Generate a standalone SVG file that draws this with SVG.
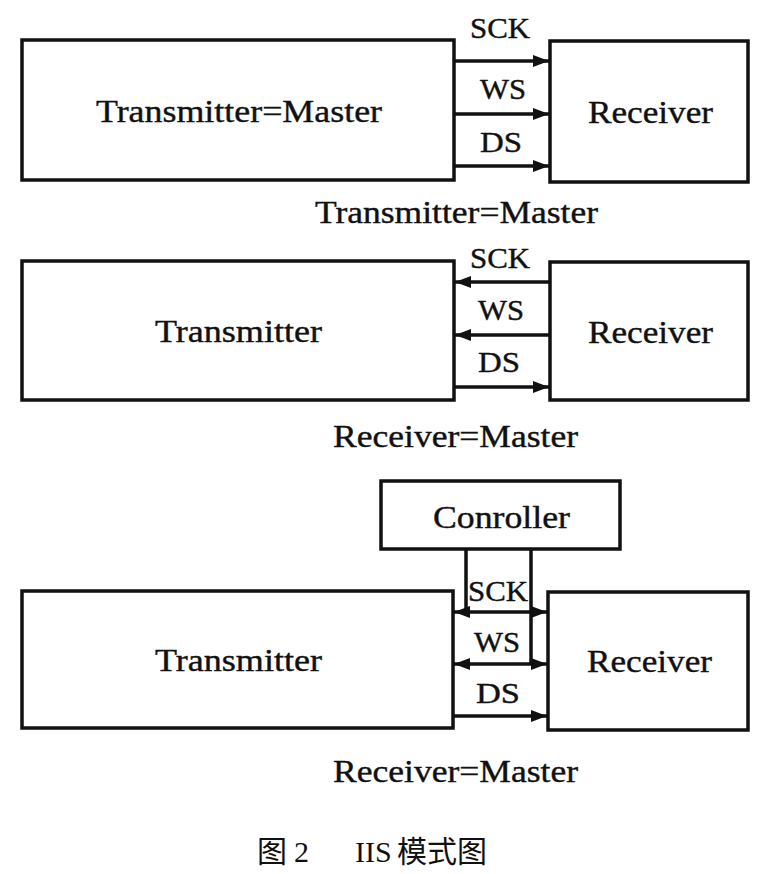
<svg xmlns="http://www.w3.org/2000/svg" width="764" height="874" viewBox="0 0 764 874">
<style>
.box{fill:#fff;stroke:#111;stroke-width:3.5}
.ln{fill:none;stroke:#111;stroke-width:3.5}
.t{font-family:"Liberation Serif","Times New Roman",serif;fill:#111;stroke:#111;stroke-width:0.4}
.big{font-size:32px}
.sig{font-size:30px}
.cap{font-family:"Liberation Serif","Noto Sans CJK SC",serif;font-size:30px;fill:#111}
</style>
<defs>
<marker id="ah" markerUnits="userSpaceOnUse" markerWidth="16" markerHeight="14" refX="16" refY="7" orient="auto-start-reverse">
<path d="M0,1 L16,7 L0,13 z" fill="#111"/>
</marker>
</defs>
<rect width="764" height="874" fill="#fff"/>

<!-- Section 1 -->
<g id="tx1"><rect class="box" x="22" y="40" width="432" height="140"/>
<text class="t big" x="96" y="122" textLength="286" lengthAdjust="spacingAndGlyphs">Transmitter=Master</text></g>
<g id="rx1"><rect class="box" x="550" y="41" width="198" height="141"/>
<text class="t big" x="588" y="123" textLength="125" lengthAdjust="spacingAndGlyphs">Receiver</text></g>
<text class="t big" x="315" y="223" textLength="283" lengthAdjust="spacingAndGlyphs">Transmitter=Master</text>

<!-- Section 2 -->
<g id="tx2"><rect class="box" x="22" y="261" width="432" height="139"/>
<text class="t big" x="155" y="342" textLength="167" lengthAdjust="spacingAndGlyphs">Transmitter</text></g>
<g id="rx2"><rect class="box" x="550" y="262" width="198" height="138"/>
<text class="t big" x="588" y="343" textLength="125" lengthAdjust="spacingAndGlyphs">Receiver</text></g>
<text class="t big" x="333" y="447" textLength="245" lengthAdjust="spacingAndGlyphs">Receiver=Master</text>

<!-- Section 3 -->
<g id="ctrl"><rect class="box" x="381" y="481" width="239" height="68"/>
<text class="t big" x="433" y="528" textLength="137" lengthAdjust="spacingAndGlyphs">Conroller</text></g>
<g id="tx3"><rect class="box" x="22" y="591" width="431" height="137"/>
<text class="t big" x="155" y="671" textLength="167" lengthAdjust="spacingAndGlyphs">Transmitter</text></g>
<g id="rx3"><rect class="box" x="548" y="592" width="200" height="138"/>
<text class="t big" x="587" y="672" textLength="125" lengthAdjust="spacingAndGlyphs">Receiver</text></g>
<text class="t big" x="333" y="782" textLength="245" lengthAdjust="spacingAndGlyphs">Receiver=Master</text>

<g id="connectors">
<!-- section 1 -->
<line class="ln" x1="455" y1="61" x2="549" y2="61" marker-end="url(#ah)"/>
<line class="ln" x1="455" y1="114" x2="549" y2="114" marker-end="url(#ah)"/>
<line class="ln" x1="455" y1="166" x2="549" y2="166" marker-end="url(#ah)"/>
<!-- section 2 -->
<line class="ln" x1="455" y1="282" x2="549" y2="282" marker-start="url(#ah)"/>
<line class="ln" x1="455" y1="335" x2="549" y2="335" marker-start="url(#ah)"/>
<line class="ln" x1="455" y1="387" x2="549" y2="387" marker-end="url(#ah)"/>
<!-- section 3 -->
<line class="ln" x1="466" y1="550" x2="466" y2="612"/>
<line class="ln" x1="531" y1="550" x2="531" y2="664"/>
<line class="ln" x1="454" y1="612" x2="547" y2="612" marker-start="url(#ah)" marker-end="url(#ah)"/>
<line class="ln" x1="454" y1="664" x2="547" y2="664" marker-start="url(#ah)" marker-end="url(#ah)"/>
<line class="ln" x1="454" y1="716" x2="547" y2="716" marker-end="url(#ah)"/>
</g>

<g id="labels">
<text class="t sig" x="470" y="38" textLength="60" lengthAdjust="spacingAndGlyphs">SCK</text>
<text class="t sig" x="480" y="99" textLength="46" lengthAdjust="spacingAndGlyphs">WS</text>
<text class="t sig" x="480" y="152" textLength="42" lengthAdjust="spacingAndGlyphs">DS</text>
<text class="t sig" x="470" y="268" textLength="60" lengthAdjust="spacingAndGlyphs">SCK</text>
<text class="t sig" x="478" y="320" textLength="46" lengthAdjust="spacingAndGlyphs">WS</text>
<text class="t sig" x="478" y="372" textLength="42" lengthAdjust="spacingAndGlyphs">DS</text>
<text class="t sig" x="468" y="601" textLength="60" lengthAdjust="spacingAndGlyphs">SCK</text>
<text class="t sig" x="474" y="652" textLength="46" lengthAdjust="spacingAndGlyphs">WS</text>
<text class="t sig" x="476" y="703" textLength="44" lengthAdjust="spacingAndGlyphs">DS</text>
</g>

<text class="cap" y="862"><tspan x="257">图</tspan><tspan x="294">2</tspan><tspan x="355">IIS</tspan><tspan x="397">模式图</tspan></text>
</svg>
